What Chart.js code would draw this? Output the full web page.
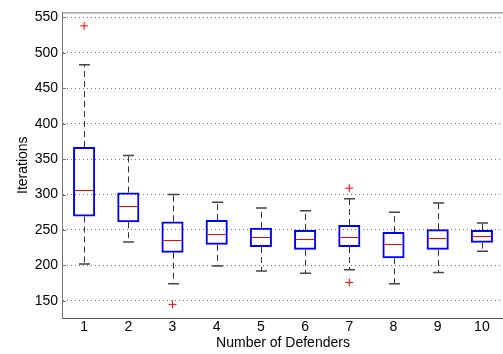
<html>
<head>
<style>
html, body {
  margin:0px;
  overflow:hidden;
  background:#fff;
}
</style>
<script src="https://cdn.jsdelivr.net/npm/chart.js@4/dist/chart.umd.min.js"></script>
</head>
<body>
<canvas id="myChart" width="509" height="354" style="position:absolute; left:0; top:0;"></canvas>
<script>
// boxplot summary per group
const defenders = ['1', '2', '3', '4', '5', '6', '7', '8', '9', '10'];
const whiskerLow = [202, 233, 174, 199, 192, 189, 194, 174, 190, 220];
const q1 = [269, 261, 218, 229, 226, 222, 226, 210, 222, 232];
const median = [306, 284, 236, 245, 240, 237, 240, 230, 239, 241];
const q3 = [367, 303, 262, 264, 253, 250, 257, 247, 251, 250];
const whiskerHigh = [483, 355, 300, 289, 281, 277, 294, 275, 288, 260];
const outlierGroup = ['1', '3', '7', '7'];
const outlierValue = [538, 145, 309, 176];
const yTicks = [150, 200, 250, 300, 350, 400, 450, 500, 550];

const boxes = q1.map(function(v, i) { return [v, q3[i]]; });
const outliers = outlierGroup.map(function(g, i) { return {x: g, y: outlierValue[i]}; });

// whiskers, caps, medians and the axis frame
const boxPlugin = {
  id: 'boxParts',
  beforeDatasetsDraw(chart) {
    const ctx = chart.ctx, xs = chart.scales.x, ys = chart.scales.y;
    const unit = xs.getPixelForValue(1) - xs.getPixelForValue(0);
    ctx.save();
    for (let i = 0; i < defenders.length; i++) {
      const x = Math.round(xs.getPixelForValue(i)) + 0.5;
      ctx.strokeStyle = '#333';
      ctx.lineWidth = 1;
      ctx.setLineDash([6, 4]);
      ctx.beginPath();
      ctx.moveTo(x, ys.getPixelForValue(q3[i]));
      ctx.lineTo(x, ys.getPixelForValue(whiskerHigh[i]));
      ctx.moveTo(x, ys.getPixelForValue(q1[i]));
      ctx.lineTo(x, ys.getPixelForValue(whiskerLow[i]));
      ctx.stroke();
      ctx.setLineDash([]);
      ctx.lineWidth = 1.5;
      ctx.strokeStyle = '#444';
      ctx.beginPath();
      [whiskerHigh[i], whiskerLow[i]].forEach(function(v) {
        const y = ys.getPixelForValue(v);
        ctx.moveTo(x - unit * 0.125, y);
        ctx.lineTo(x + unit * 0.125, y);
      });
      ctx.stroke();
    }
    ctx.restore();
  },
  afterDatasetsDraw(chart) {
    const ctx = chart.ctx, xs = chart.scales.x, ys = chart.scales.y;
    const unit = xs.getPixelForValue(1) - xs.getPixelForValue(0);
    const a = chart.chartArea;
    ctx.save();
    ctx.strokeStyle = '#ff0000';
    ctx.lineWidth = 1;
    ctx.beginPath();
    for (let i = 0; i < defenders.length; i++) {
      const x = xs.getPixelForValue(i);
      const y = Math.round(ys.getPixelForValue(median[i])) + 0.5;
      ctx.moveTo(x - unit * 0.25 + 2, y);
      ctx.lineTo(x + unit * 0.25 - 2, y);
    }
    ctx.stroke();
    // frame: top edge and inward ticks on the left
    ctx.strokeStyle = '#777';
    ctx.lineWidth = 1;
    ctx.beginPath();
    ctx.moveTo(a.left, a.top + 0.5);
    ctx.lineTo(a.right, a.top + 0.5);
    yTicks.forEach(function(v) {
      const y = Math.round(ys.getPixelForValue(v)) + 0.5;
      ctx.moveTo(a.left, y);
      ctx.lineTo(a.left + 4, y);
    });
    ctx.stroke();
    ctx.restore();
  }
};

const ctx = document.getElementById('myChart');
const myChart = new Chart(ctx, {
  type: 'bar',
  data: {
    labels: defenders,
    datasets: [{
      data: boxes,
      backgroundColor: 'rgba(0,0,0,0)',
      borderColor: '#0000ff',
      borderWidth: 2,
      borderSkipped: false,
      barPercentage: 0.5,
      categoryPercentage: 1
    }, {
      type: 'scatter',
      data: outliers,
      pointStyle: 'cross',
      radius: 4,
      borderColor: '#ff0000',
      borderWidth: 1
    }]
  },
  options: {
    responsive: false,
    animation: false,
    layout: { padding: { top: 10, left: 0, right: 0, bottom: 0 } },
    plugins: { legend: { display: false }, tooltip: { enabled: false } },
    scales: {
      x: {
        offset: true,
        afterFit: function(s) { s.height = 36; },
        grid: { display: false, drawTicks: false },
        border: { display: true, color: '#555', width: 1 },
        ticks: { color: '#000', padding: 1, font: { family: 'Liberation Sans', size: 14 } },
        title: {
          display: true, text: 'Number of Defenders', color: '#000',
          padding: { top: 0, bottom: 2 },
          font: { family: 'Liberation Sans', size: 14 }
        }
      },
      y: {
        min: 125.8,
        max: 557,
        afterFit: function(s) { s.width = 62; },
        afterBuildTicks: function(s) { s.ticks = yTicks.map(function(v) { return {value: v}; }); },
        grid: { color: '#777', lineWidth: 1, drawTicks: false, tickBorderDash: [1, 3] },
        border: { display: true, color: '#777', width: 1, dash: [1, 3] },
        ticks: { color: '#000', padding: 4, font: { family: 'Liberation Sans', size: 14 } },
        title: {
          display: true, text: 'Iterations', color: '#000',
          padding: { top: 15, bottom: 0 },
          font: { family: 'Liberation Sans', size: 14 }
        }
      }
    }
  },
  plugins: [boxPlugin]
});
</script>
</body>
</html>
